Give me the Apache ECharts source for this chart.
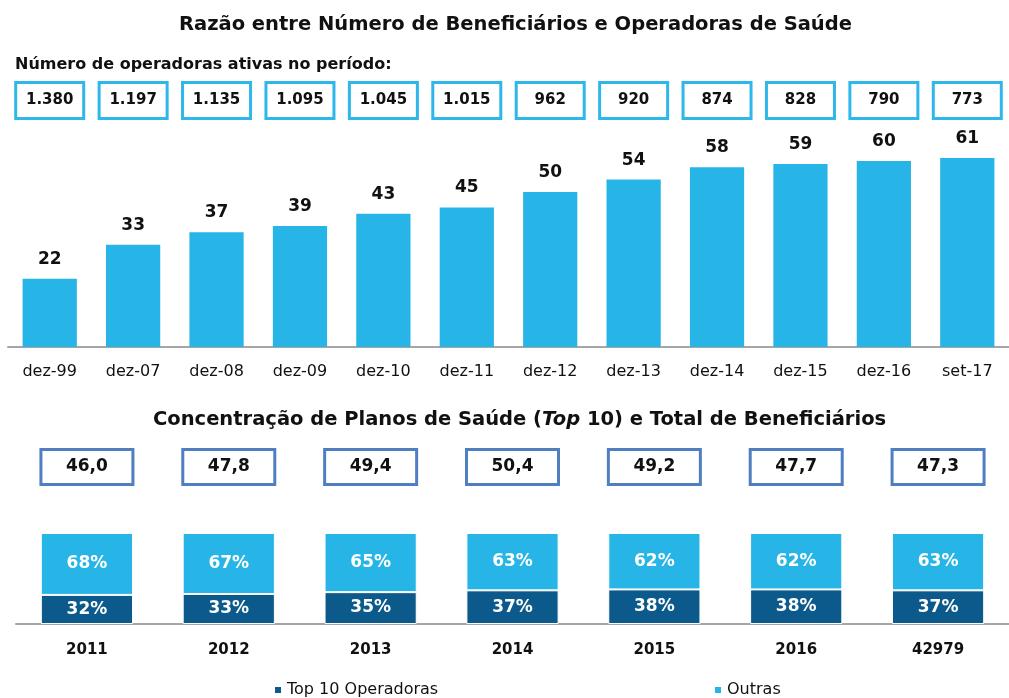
<!DOCTYPE html>
<html>
<head>
<meta charset="utf-8">
<script src="https://cdn.jsdelivr.net/npm/echarts@6/dist/echarts.min.js"></script>
<style>
  html, body { margin: 0; padding: 0; background: #fff; }
  #main { width: 1009px; height: 698px; }
</style>
</head>
<body>
<div id="main"></div>
<script>
// grafico de cima: razao beneficiarios / operadoras
var periodos = ['dez-99', 'dez-07', 'dez-08', 'dez-09', 'dez-10', 'dez-11', 'dez-12', 'dez-13', 'dez-14', 'dez-15', 'dez-16', 'set-17'];
var razao = [22, 33, 37, 39, 43, 45, 50, 54, 58, 59, 60, 61];
var operadoras = ['1.380', '1.197', '1.135', '1.095', '1.045', '1.015', '962', '920', '874', '828', '790', '773'];

// grafico de baixo: concentracao top 10
var anos = ['2011', '2012', '2013', '2014', '2015', '2016', '42979'];
var beneficiarios = ['46,0', '47,8', '49,4', '50,4', '49,2', '47,7', '47,3'];
var top10 = [32, 33, 35, 37, 38, 38, 37];
var outras = [68, 67, 65, 63, 62, 62, 63];

var azul = '#27B4E6';
var azulEscuro = '#0B5A8B';
var fonte = 'DejaVu Sans';

var chart = echarts.init(document.getElementById('main'));

var option = {
  animation: false,
  textStyle: { fontFamily: fonte },
  title: [
    {
      text: 'Razão entre Número de Beneficiários e Operadoras de Saúde',
      left: 174, top: 10,
      textStyle: { fontSize: 19.5, fontWeight: 'bold', color: '#111', fontFamily: fonte }
    },
    {
      text: 'Número de operadoras ativas no período:',
      left: 10, top: 52,
      textStyle: { fontSize: 16, fontWeight: 'bold', color: '#111', fontFamily: fonte }
    },
    {
      text: 'Concentração de Planos de Saúde ({i|Top} 10) e Total de Beneficiários',
      left: 148, top: 405,
      textStyle: {
        fontSize: 19.5, fontWeight: 'bold', color: '#111', fontFamily: fonte,
        rich: { i: { fontSize: 19.5, fontWeight: 'bold', fontStyle: 'italic', color: '#111', fontFamily: fonte } }
      }
    }
  ],
  legend: [
    {
      data: ['Top 10 Operadoras'], left: 268, top: 677,
      icon: 'rect', itemWidth: 8, itemHeight: 8, itemGap: 6,
      textStyle: { fontSize: 16, color: '#111', fontFamily: fonte }
    },
    {
      data: ['Outras'], left: 708, top: 677,
      icon: 'rect', itemWidth: 8, itemHeight: 8,
      textStyle: { fontSize: 16, color: '#111', fontFamily: fonte }
    }
  ],
  grid: [
    { left: 8, right: -14, top: 130, bottom: 351 },
    { left: 16, right: -4, top: 533, bottom: 74 }
  ],
  xAxis: [
    {
      type: 'category', gridIndex: 0, data: periodos,
      axisLine: { lineStyle: { color: '#A6A6A6', width: 2 } },
      axisTick: { show: false },
      axisLabel: { fontSize: 16, color: '#111', margin: 17 }
    },
    {
      // caixas com numero de operadoras
      type: 'category', gridIndex: 0, position: 'top', data: operadoras,
      axisLine: { show: false }, axisTick: { show: false },
      axisLabel: {
        margin: 13, fontSize: 15, fontWeight: 'bold', color: '#111',
        width: 65, height: 33, lineHeight: 33, align: 'center',
        borderColor: '#2DB7EA', borderWidth: 3, backgroundColor: '#fff'
      }
    },
    {
      type: 'category', gridIndex: 1, data: anos,
      axisLine: { lineStyle: { color: '#A6A6A6', width: 2 } },
      axisTick: { show: false },
      axisLabel: { fontSize: 15, fontWeight: 'bold', color: '#111', margin: 19 }
    },
    {
      // caixas com total de beneficiarios (milhoes)
      type: 'category', gridIndex: 1, position: 'top', data: beneficiarios,
      axisLine: { show: false }, axisTick: { show: false },
      axisLabel: {
        margin: 50, fontSize: 17, fontWeight: 'bold', color: '#111',
        width: 89, height: 32, lineHeight: 32, align: 'center',
        borderColor: '#4F7FC0', borderWidth: 3, backgroundColor: '#fff'
      }
    }
  ],
  yAxis: [
    { type: 'value', gridIndex: 0, min: 0, max: 70, show: false },
    { type: 'value', gridIndex: 1, min: 0, max: 100, show: false }
  ],
  series: [
    {
      name: 'Razão', type: 'bar', xAxisIndex: 0, yAxisIndex: 0,
      data: razao, barWidth: '65%',
      itemStyle: { color: azul },
      label: { show: true, position: 'top', distance: 11, fontSize: 17, fontWeight: 'bold', color: '#111' }
    },
    {
      name: 'Top 10 Operadoras', type: 'bar', xAxisIndex: 2, yAxisIndex: 1, stack: 'conc',
      data: top10, barWidth: '65%',
      itemStyle: { color: azulEscuro, borderColor: '#fff', borderWidth: 1 },
      label: { show: true, position: 'inside', fontSize: 17, fontWeight: 'bold', color: '#fff', formatter: '{c}%' }
    },
    {
      name: 'Outras', type: 'bar', xAxisIndex: 2, yAxisIndex: 1, stack: 'conc',
      data: outras, barWidth: '65%',
      itemStyle: { color: azul, borderColor: '#fff', borderWidth: 1 },
      label: { show: true, position: 'inside', fontSize: 17, fontWeight: 'bold', color: '#fff', formatter: '{c}%' }
    }
  ]
};

chart.setOption(option);
</script>
</body>
</html>
